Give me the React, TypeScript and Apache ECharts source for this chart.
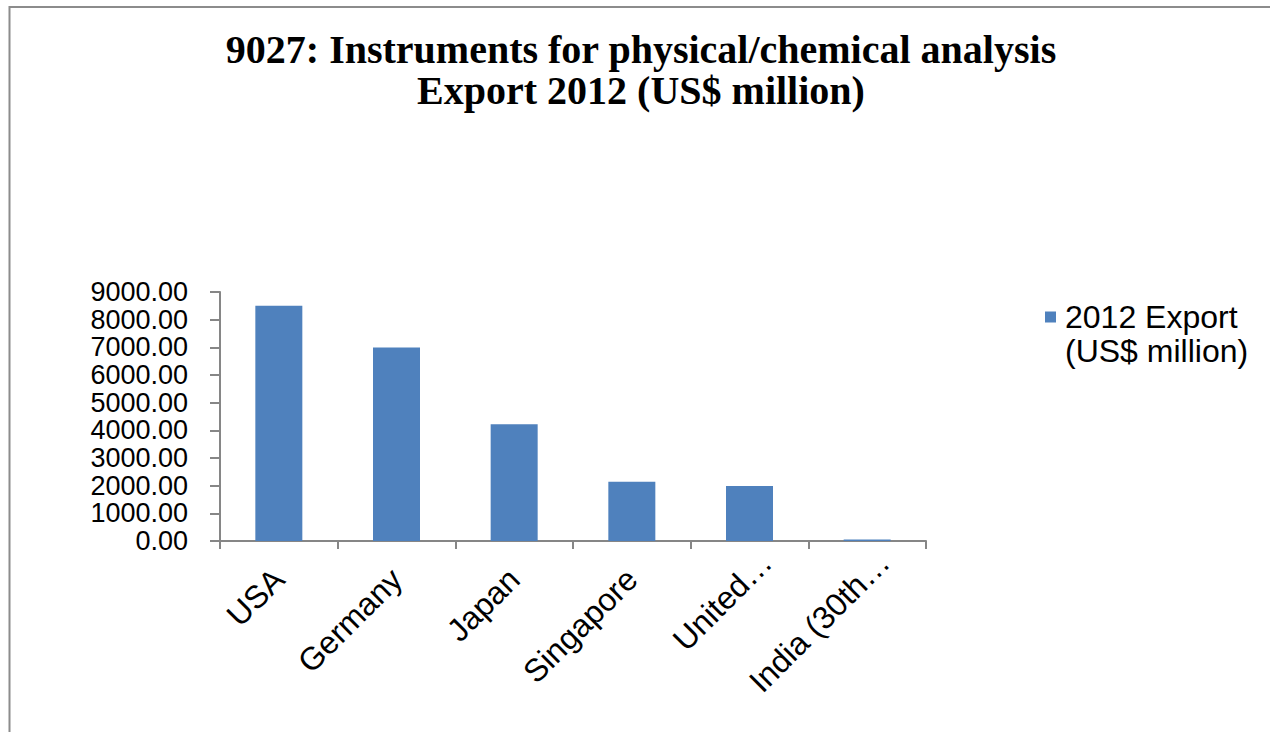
import React, { useEffect, useRef } from "react";
import * as echarts from "echarts";

const titleLines = ["9027: Instruments for physical/chemical analysis", "Export 2012 (US$ million)"];
const categories = ["USA", "Germany", "Japan", "Singapore", "United…", "India (30th…"];
const seriesName = "2012 Export\n(US$ million)";
const exportValues = [8500, 6990, 4220, 2140, 1990, 50];
const yMin = 0;
const yMax = 9000;
const yInterval = 1000;

export default function App() {
  const ref = useRef<HTMLDivElement>(null);
  useEffect(() => {
    if (!ref.current) return;
    const chart = echarts.init(ref.current, undefined, { renderer: "svg" });
    const catData = categories.map((c) =>
      c.endsWith("…") ? { value: c, textStyle: { padding: [0, -24, 0, 0] } } : c
    );
    chart.setOption({
      animation: false,
      backgroundColor: "#ffffff",
      graphic: [
        {
          type: "rect",
          shape: { x: 9.5, y: 7, width: 1300, height: 800 },
          style: { fill: "none", stroke: "#8c8c8c", lineWidth: 2 },
          silent: true,
        },
      ],
      title: {
        text: titleLines.join("\n"),
        left: 636,
        textAlign: "center",
        top: 24,
        textStyle: {
          fontFamily: "'Liberation Serif', serif",
          fontWeight: "bold",
          fontSize: 40,
          lineHeight: 41,
          color: "#000000",
        },
      },
      legend: {
        orient: "vertical",
        left: 1045,
        top: 266,
        padding: 0,
        icon: "rect",
        itemWidth: 11,
        itemHeight: 11,
        itemGap: 5,
        formatter: (name: string) => "\n" + name,
        textStyle: {
          fontFamily: "'Liberation Sans', Arial, sans-serif",
          fontSize: 32,
          lineHeight: 34,
          color: "#000000",
          padding: [0, 0, 0, 4],
        },
        data: [seriesName],
      },
      grid: { left: 220, right: 344, top: 292, bottom: 191, containLabel: false },
      xAxis: {
        type: "category",
        data: catData,
        axisLine: { lineStyle: { color: "#868686", width: 2 } },
        axisTick: { show: true, length: 8, lineStyle: { color: "#868686", width: 2 } },
        axisLabel: {
          rotate: 45,
          margin: 33,
          interval: 0,
          color: "#000000",
          fontFamily: "'Liberation Sans', Arial, sans-serif",
          fontSize: 32,
        },
        splitLine: { show: false },
      },
      yAxis: {
        type: "value",
        min: yMin,
        max: yMax,
        interval: yInterval,
        axisLine: { show: true, lineStyle: { color: "#868686", width: 2 } },
        axisTick: { show: true, length: 10, lineStyle: { color: "#868686", width: 2 } },
        axisLabel: {
          margin: 32,
          showMinLabel: true,
          showMaxLabel: true,
          hideOverlap: false,
          color: "#000000",
          fontFamily: "'Liberation Sans', Arial, sans-serif",
          fontSize: 27,
          lineHeight: 24,
          formatter: (v: number) => v.toFixed(2),
        },
        splitLine: { show: false },
      },
      series: [
        {
          name: seriesName,
          type: "bar",
          data: exportValues,
          barWidth: 47,
          itemStyle: { color: "#4F81BD" },
        },
      ],
    });
    return () => chart.dispose();
  }, []);
  return (
    <div
      ref={ref}
      style={{ position: "absolute", left: 0, top: 0, width: 1270, height: 732 }}
    />
  );
}
